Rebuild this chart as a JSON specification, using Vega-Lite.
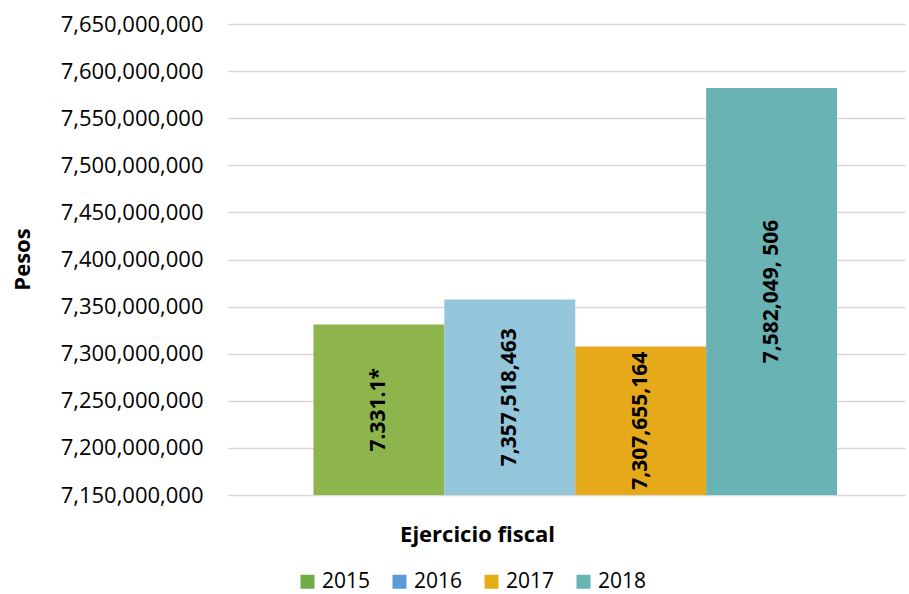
{
  "$schema": "https://vega.github.io/schema/vega-lite/v6.json",
  "width": 678,
  "height": 471,
  "autosize": "none",
  "padding": {"left": 227, "top": 24, "right": 4, "bottom": 99},
  "background": "white",
  "config": {
    "view": {"stroke": null},
    "font": "Open Sans",
    "axis": {"labelFont": "Open Sans", "titleFont": "Open Sans"}
  },
  "data": {
    "values": [
      {"year": "2015", "value": 7331100000, "label": "7.331.1*"},
      {"year": "2016", "value": 7357518463, "label": "7,357,518,463"},
      {"year": "2017", "value": 7307655164, "label": "7,307,655,164"},
      {"year": "2018", "value": 7582049506, "label": "7,582,049, 506"}
    ]
  },
  "encoding": {
    "x": {
      "field": "year",
      "type": "nominal",
      "scale": {"paddingInner": 0, "paddingOuter": 0.59, "align": 0.56},
      "axis": {
        "labels": false,
        "ticks": false,
        "domain": false,
        "title": "Ejercicio fiscal",
        "titleFontSize": 22,
        "titleFontWeight": "bold",
        "titleColor": "#000000",
        "titleX": 250,
        "titleY": 46,
        "titleBaseline": "alphabetic",
        "titleAlign": "center"
      }
    }
  },
  "layer": [
    {
      "encoding": {
        "y": {
          "field": "value",
          "type": "quantitative",
          "scale": {"domain": [7150000000, 7650000000], "zero": false, "nice": false},
          "axis": {
            "values": [7150000000, 7200000000, 7250000000, 7300000000, 7350000000, 7400000000, 7450000000, 7500000000, 7550000000, 7600000000, 7650000000],
            "labelExpr": "format(datum.value, ',')",
            "labelFontSize": 22,
            "labelColor": "#000000",
            "labelPadding": 24,
            "ticks": false,
            "domain": false,
            "gridColor": "#D9D9D9",
            "gridWidth": 1.5,
            "title": "Pesos",
            "titleFontSize": 22,
            "titleFontWeight": "bold",
            "titleColor": "#000000",
            "titleX": -205,
            "titleY": 235,
            "titleAngle": 270,
            "titleBaseline": "middle",
            "titleAlign": "center"
          }
        },
        "y2": {"datum": 7150000000}
      },
      "layer": [
        {
          "mark": {"type": "bar", "opacity": 0},
          "encoding": {
            "fill": {
              "field": "year",
              "type": "nominal",
              "scale": {"domain": ["2015", "2016", "2017", "2018"], "range": ["#70AD47", "#5B9BD5", "#E6AC14", "#6AB4B6"]},
              "legend": {
                "title": null,
                "orient": "none",
                "direction": "horizontal",
                "legendX": 70,
                "legendY": 547,
                "padding": 0,
                "symbolType": "square",
                "symbolSize": 196,
                "symbolOpacity": 1,
                "symbolStrokeWidth": 0,
                "labelFontSize": 21,
                "labelFont": "Open Sans",
                "labelColor": "#000000",
                "labelOffset": 4,
                "labelLimit": 200,
                "columnPadding": 18
              }
            }
          }
        },
        {
          "mark": {"type": "bar"},
          "encoding": {
            "color": {
              "field": "year",
              "type": "nominal",
              "scale": {"domain": ["2015", "2016", "2017", "2018"], "range": ["#8DB54B", "#93C6DA", "#E6A919", "#6AB3B5"]},
              "legend": null
            }
          }
        }
      ]
    },
    {
      "mark": {"type": "text", "angle": 270, "fontSize": 21, "fontWeight": "bold", "color": "#000000", "align": "center", "baseline": "middle"},
      "encoding": {
        "y": {
          "field": "value",
          "type": "quantitative",
          "scale": {"domain": [7150000000, 7650000000], "range": [471, 235.5], "zero": false, "nice": false},
          "axis": null
        },
        "text": {"field": "label"}
      }
    }
  ],
  "resolve": {"scale": {"y": "independent"}}
}
